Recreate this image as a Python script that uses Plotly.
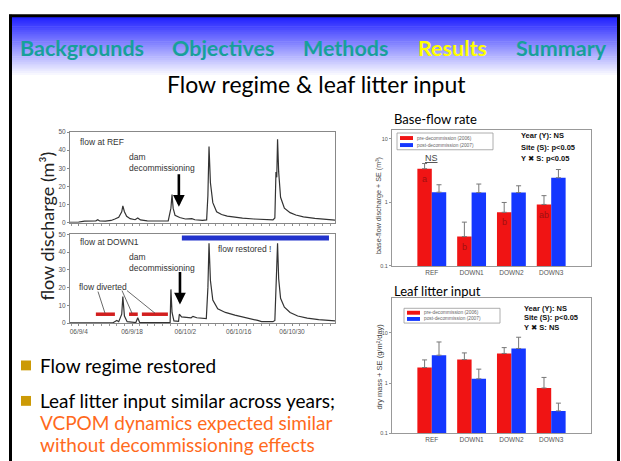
import math
import plotly.graph_objects as go

W, H = 621, 461
def px(x): return x / W
def py(y): return 1 - y / H

# ---------------- data ----------------
nav_items = ["Backgrounds", "Objectives", "Methods", "Results", "Summary"]
nav_active = "Results"
title_text = "Flow regime & leaf litter input"

ref_dates = ['2006-09-01 17:00','2006-09-04 00:00','2006-09-05 12:00','2006-09-07 00:00','2006-09-08 12:00',
             '2006-09-09 00:00','2006-09-09 12:00','2006-09-11 00:00','2006-09-12 12:00','2006-09-13 12:00',
             '2006-09-14 12:00','2006-09-15 07:00','2006-09-15 14:00','2006-09-16 00:00','2006-09-16 14:00',
             '2006-09-17 12:00','2006-09-18 19:00','2006-09-19 12:00','2006-09-20 05:00','2006-09-22 00:00',
             '2006-09-25 00:00','2006-09-27 12:00','2006-09-28 05:00','2006-09-28 12:00','2006-09-28 19:00',
             '2006-09-29 07:00','2006-09-30 12:00','2006-10-02 00:00','2006-10-03 17:00','2006-10-04 12:00',
             '2006-10-06 12:00','2006-10-07 14:00','2006-10-07 22:00','2006-10-08 05:00','2006-10-08 14:00',
             '2006-10-09 05:00','2006-10-10 05:00','2006-10-11 12:00','2006-10-13 00:00','2006-10-15 00:00',
             '2006-10-17 00:00','2006-10-20 00:00','2006-10-23 00:00','2006-10-25 00:00','2006-10-25 12:00',
             '2006-10-25 19:00','2006-10-26 00:00','2006-10-26 05:00','2006-10-26 12:00','2006-10-27 00:00',
             '2006-10-28 00:00','2006-10-29 12:00','2006-10-31 00:00','2006-11-02 00:00','2006-11-05 00:00',
             '2006-11-08 00:00','2006-11-10 07:00']
ref_flow = [0.2, 0.3, 0.8, 0.9, 1.0,
            1.6, 0.9, 0.8, 1.2, 2.0,
            3.0, 6.0, 9.2, 6.0, 3.5,
            2.2, 1.6, 2.6, 1.5, 1.0,
            0.8, 0.9, 8.0, 15.5, 8.0,
            4.0, 2.8, 2.0, 2.2, 1.6,
            1.3, 1.5, 15.0, 42.0, 22.0,
            11.0, 6.0, 4.5, 3.6, 3.0,
            2.5, 2.0, 1.6, 1.5, 2.6,
            28.0, 25.0, 46.0, 28.0, 14.0,
            8.0, 5.5, 4.2, 3.2, 2.3,
            1.7, 1.4]

down1_dates = ['2006-09-01 17:00','2006-09-13 00:00','2006-09-14 00:00','2006-09-14 12:00','2006-09-15 07:00',
               '2006-09-15 14:00','2006-09-16 00:00','2006-09-16 17:00','2006-09-19 00:00','2006-09-19 12:00',
               '2006-09-20 00:00','2006-09-28 00:00','2006-09-28 05:00','2006-09-28 12:00','2006-09-29 00:00',
               '2006-09-30 05:00','2006-09-30 10:00','2006-10-01 00:00','2006-10-03 12:00','2006-10-04 00:00',
               '2006-10-05 00:00','2006-10-07 12:00','2006-10-07 22:00','2006-10-08 05:00','2006-10-08 14:00',
               '2006-10-09 05:00','2006-10-10 12:00','2006-10-12 12:00','2006-10-15 00:00','2006-10-18 00:00',
               '2006-10-21 00:00','2006-10-22 00:00','2006-10-25 00:00','2006-10-25 12:00','2006-10-25 19:00',
               '2006-10-26 05:00','2006-10-26 12:00','2006-10-27 00:00','2006-10-28 00:00','2006-10-29 12:00',
               '2006-10-31 12:00','2006-11-03 00:00','2006-11-06 00:00','2006-11-10 07:00']
down1_flow = [0.1, 0.2, 1.5, 0.8, 5.0,
              15.0, 4.0, 0.8, 0.3, 3.0,
              0.3, 0.3, 19.0, 6.0, 1.2,
              1.0, 5.0, 3.5, 3.0, 3.8,
              3.0, 2.5, 20.0, 45.0, 24.0,
              13.0, 8.0, 6.0, 4.5, 3.2,
              1.5, 0.8, 0.8, 1.5, 20.0,
              45.0, 25.0, 14.0, 9.0, 6.0,
              4.0, 2.8, 2.0, 1.3]

date_range = ['2006-09-01 17:00', '2006-11-10 07:00']
date_ticks = ['2006-09-04', '2006-09-18', '2006-10-02', '2006-10-16', '2006-10-30']
date_ticktext = ['06/9/4', '06/9/18', '06/10/2', '06/10/16', '06/10/30']
flow_ticks = [0, 10, 20, 30, 40, 50]

diverted_start = ['2006-09-08 12:00', '2006-09-17 05:00', '2006-09-20 14:00']
diverted_end = ['2006-09-13 12:00', '2006-09-19 12:00', '2006-09-27 10:00']
diverted_level = 5
restored_start = '2006-10-01 02:00'
restored_end = '2006-11-08 17:00'
restored_level = 48
decommission_date_ref = '2006-09-30 07:00'
decommission_tip_ref = 8.8
decommission_date_down1 = '2006-09-30 14:00'
decommission_tip_down1 = 10.5

sites = ["REF", "DOWN1", "DOWN2", "DOWN3"]
base_pre = [3.4, 0.29, 0.70, 0.93]
base_pre_se = [0.7, 0.2, 0.3, 0.35]
base_post = [1.45, 1.43, 1.43, 2.45]
base_post_se = [0.45, 0.52, 0.4, 0.85]
base_letters = ["a", "b", "b", "ab"]
base_stats = ["Year (Y): NS", "Site (S): p<0.05", "Y \u2716 S: p<0.05"]

litter_pre = [2.05, 2.95, 3.9, 0.8]
litter_pre_se = [0.85, 1.05, 1.2, 0.5]
litter_post = [3.6, 1.22, 4.9, 0.28]
litter_post_se = [3.0, 0.68, 3.3, 0.12]
litter_stats = ["Year (Y): NS", "Site (S): p<0.05", "Y \u2716 S: NS"]

legend_labels = ["pre-decommission (2006)", "post-decommission (2007)"]
log_ticks = [0.1, 1, 10]
log_ticktext = ["0.1", "1", "10"]

bullets = ["Flow regime restored", "Leaf litter input similar across years;"]
bullet_orange = ["VCPOM dynamics expected similar", "without decommissioning effects"]

# ---------------- styles ----------------
RED = "#f01414"
BLUE = "#1437ff"
TEAL = "#17a09a"
SLIDE_FONT = "Lato"
CHART_FONT = "Liberation Sans, Arial, DejaVu Sans"

fig = go.Figure()

# hydrographs
fig.add_trace(go.Scatter(x=ref_dates, y=ref_flow, mode="lines",
                         line=dict(color="#333333", width=1.2), xaxis="x", yaxis="y"))
fig.add_trace(go.Scatter(x=down1_dates, y=down1_flow, mode="lines",
                         line=dict(color="#333333", width=1.2), xaxis="x2", yaxis="y2"))

# bar charts
err_kw = dict(type="data", symmetric=False, color="#777777", thickness=1, width=2.5)
fig.add_trace(go.Bar(x=sites, y=base_pre, marker=dict(color=RED, line=dict(width=0)),
                     error_y=dict(array=base_pre_se, arrayminus=[0]*4, **err_kw),
                     xaxis="x3", yaxis="y3"))
fig.add_trace(go.Bar(x=sites, y=base_post, marker=dict(color=BLUE, line=dict(width=0)),
                     error_y=dict(array=base_post_se, arrayminus=[0]*4, **err_kw),
                     xaxis="x3", yaxis="y3"))
fig.add_trace(go.Bar(x=sites, y=litter_pre, marker=dict(color=RED, line=dict(width=0)),
                     error_y=dict(array=litter_pre_se, arrayminus=[0]*4, **err_kw),
                     xaxis="x4", yaxis="y4"))
fig.add_trace(go.Bar(x=sites, y=litter_post, marker=dict(color=BLUE, line=dict(width=0)),
                     error_y=dict(array=litter_post_se, arrayminus=[0]*4, **err_kw),
                     xaxis="x4", yaxis="y4"))

shapes = []
annotations = []

# slide gradient header
n_strips = 32
y0g, y1g = 13, 74
for i in range(n_strips):
    t = i / (n_strips - 1)
    c = int(34 + (255 - 34) * t)
    ya = y0g + (y1g - y0g) * i / n_strips
    yb = y0g + (y1g - y0g) * (i + 1) / n_strips + 0.6
    shapes.append(dict(type="rect", xref="paper", yref="paper", x0=px(10), x1=px(619),
                       y0=py(yb), y1=py(ya), fillcolor=f"rgb({c},{c},255)",
                       line=dict(width=0), layer="below"))
# slide border
shapes.append(dict(type="line", xref="paper", yref="paper", x0=px(9), x1=px(620),
                   y0=py(12), y1=py(12), line=dict(color="black", width=3)))
shapes.append(dict(type="line", xref="paper", yref="paper", x0=px(10.5), x1=px(10.5),
                   y0=py(11), y1=py(470), line=dict(color="black", width=3)))
shapes.append(dict(type="line", xref="paper", yref="paper", x0=px(618.5), x1=px(618.5),
                   y0=py(11), y1=py(470), line=dict(color="black", width=3)))

# nav
nav_x = [82, 223, 346, 452, 561]
for name, xc in zip(nav_items, nav_x):
    annotations.append(dict(text=f"<b>{name}</b>", x=px(xc), y=py(45), xref="paper", yref="paper",
                            showarrow=False, xanchor="center", yanchor="middle",
                            font=dict(family=SLIDE_FONT, size=21.5,
                                      color="#ffff00" if name == nav_active else TEAL)))
annotations.append(dict(text=title_text, x=px(316), y=py(81), xref="paper", yref="paper",
                        showarrow=False, xanchor="center", yanchor="middle",
                        font=dict(family=SLIDE_FONT, size=23, color="black")))

# hydro markers
for s, e in zip(diverted_start, diverted_end):
    shapes.append(dict(type="line", xref="x2", yref="y2", x0=s, x1=e, y0=diverted_level,
                       y1=diverted_level, line=dict(color="#d21e1e", width=3.5)))
shapes.append(dict(type="line", xref="x2", yref="y2", x0=restored_start, x1=restored_end,
                   y0=restored_level, y1=restored_level, line=dict(color="#2233cc", width=5)))
# leader lines from "flow diverted"
for (xa, ya, xb, yb) in [(98, 292, 105, 314), (122, 291, 132, 314), (127, 291, 155, 314)]:
    shapes.append(dict(type="line", xref="paper", yref="paper", x0=px(xa), y0=py(ya),
                       x1=px(xb), y1=py(yb), line=dict(color="#444", width=0.8)))

def txt(t, x, y, size=8.5, color="#333", anchor="left", family=CHART_FONT, **kw):
    annotations.append(dict(text=t, x=px(x), y=py(y), xref="paper", yref="paper", showarrow=False,
                            xanchor=anchor, yanchor="middle", align="left",
                            font=dict(family=family, size=size, color=color), **kw))

txt("flow at REF", 78, 140)
txt("dam<br>decommissioning", 127, 161)
txt("flow at DOWN1", 78, 242)
txt("dam<br>decommissioning", 127, 262)
txt("flow restored !", 216, 249)
txt("flow diverted", 77, 287)
annotations.append(dict(text="flow discharge (m\u00b3)", x=px(47), y=py(226), xref="paper", yref="paper",
                        showarrow=False, textangle=-90, xanchor="center", yanchor="middle",
                        font=dict(family=SLIDE_FONT, size=18, color="#222")))

for xr, yr, d, tip in [("x", "y", decommission_date_ref, decommission_tip_ref),
                       ("x2", "y2", decommission_date_down1, decommission_tip_down1)]:
    annotations.append(dict(x=d, y=tip, xref=xr, yref=yr, text="", showarrow=True, ax=0, ay=-34,
                            arrowhead=2, arrowsize=0.9, arrowwidth=2.6, arrowcolor="black"))

# bar chart decorations
txt("Base-flow rate", 392, 117, size=13, color="black", family=SLIDE_FONT)
txt("Leaf litter input", 392, 291, size=13, color="black", family=SLIDE_FONT)
for i, s in enumerate(base_stats):
    txt(f"<b>{s}</b>", 519, 134 + 11.5 * i, size=7.5, color="#111")
for i, s in enumerate(litter_stats):
    txt(f"<b>{s}</b>", 522, 309 + 9.5 * i, size=7.5, color="#111")
txt("base-flow discharge + SE (m\u00b3)", 379, 205, size=7.2, color="#444", anchor="center", textangle=-90)
txt("dry mass + SE (g/m\u00b2/day)", 379, 368, size=7.5, color="#444", anchor="center", textangle=-90)

for (bx0, by0, bx1, by1) in [(397, 131, 493, 148), (404, 309, 500, 324)]:
    shapes.append(dict(type="rect", xref="paper", yref="paper", x0=px(bx0), x1=px(bx1),
                       y0=py(by1), y1=py(by0), line=dict(color="#999", width=0.8)))
    h = (by1 - by0)
    for k, col in enumerate([RED, BLUE]):
        yc = by0 + h * (0.3 + 0.42 * k)
        shapes.append(dict(type="rect", xref="paper", yref="paper", x0=px(bx0 + 3), x1=px(bx0 + 16),
                           y0=py(yc + 2), y1=py(yc - 2), fillcolor=col, line=dict(width=0)))
        txt(legend_labels[k], bx0 + 18, yc, size=4.8, color="#666")

for site, v, lab in zip(sites, base_pre, base_letters):
    annotations.append(dict(x=site, y=math.log10(v) - 0.16, xref="x3", yref="y3", text=lab,
                            showarrow=False, xshift=-7.3, font=dict(family=CHART_FONT, size=9, color="#a01010")))
annotations.append(dict(x=sites[0], y=0.70, xref="x3", yref="y3", text="<u>NS</u>", showarrow=False,
                        font=dict(family=CHART_FONT, size=9, color="#444")))

# bullets
for yc in [367, 403]:
    shapes.append(dict(type="rect", xref="paper", yref="paper", x0=px(21), x1=px(31),
                       y0=py(yc + 5), y1=py(yc - 5), fillcolor="#cc9a06", line=dict(width=0)))
txt(bullets[0], 38, 367, size=19, color="black", family=SLIDE_FONT)
txt(bullets[1], 38, 403, size=19, color="black", family=SLIDE_FONT)
txt(bullet_orange[0], 38, 425, size=19, color="#ff6a1c", family=SLIDE_FONT)
txt(bullet_orange[1], 38, 447, size=19, color="#ff6a1c", family=SLIDE_FONT)

hydro_x = dict(domain=[px(70), px(335)], type="date", range=date_range, showline=True,
               linecolor="#888", linewidth=1, mirror=True, showgrid=False, zeroline=False,
               tickvals=date_ticks, ticks="outside", ticklen=2, tickcolor="#888",
               minor=dict(dtick=2 * 86400000, tick0='2006-09-04', ticks="outside", ticklen=2, tickcolor="#999"),
               tickfont=dict(family=CHART_FONT, size=6.5, color="#555"))
hydro_y = dict(range=[0, 50], tickvals=flow_ticks, showline=True, linecolor="#888", linewidth=1,
               mirror=True, showgrid=False, zeroline=False, ticks="outside", ticklen=2, tickcolor="#888",
               tickfont=dict(family=CHART_FONT, size=6.5, color="#555"))
bar_x = dict(type="category", range=[-1, 4], showline=True, linecolor="#999", linewidth=1, mirror=True,
             showgrid=False, ticks="", tickfont=dict(family=CHART_FONT, size=6.5, color="#555"))
bar_y = dict(type="log", tickvals=log_ticks, ticktext=log_ticktext, showline=True, linecolor="#999",
             linewidth=1, mirror=True, showgrid=False, zeroline=False, ticks="outside", ticklen=2,
             tickcolor="#999", tickfont=dict(family=CHART_FONT, size=5.5, color="#555"))

fig.update_layout(
    width=W, height=H, margin=dict(l=0, r=0, t=0, b=0),
    paper_bgcolor="white", plot_bgcolor="rgba(0,0,0,0)", showlegend=False,
    barmode="group", bargap=0.275, bargroupgap=0,
    xaxis=dict(hydro_x, anchor="y", showticklabels=False),
    yaxis=dict(hydro_y, domain=[py(222), py(130)], anchor="x"),
    xaxis2=dict(hydro_x, anchor="y2", ticktext=date_ticktext),
    yaxis2=dict(hydro_y, domain=[py(324), py(234)], anchor="x2"),
    xaxis3=dict(bar_x, domain=[px(392), px(591)], anchor="y3"),
    yaxis3=dict(bar_y, domain=[py(266), py(128)], range=[-1, 1.14], anchor="x3"),
    xaxis4=dict(bar_x, domain=[px(392), px(591)], anchor="y4"),
    yaxis4=dict(bar_y, domain=[py(436), py(299)], range=[-1, 1.686], anchor="x4"),
    shapes=shapes, annotations=annotations,
)

fig.write_html("out.html", config={"displayModeBar": False},
               post_script="document.body.style.margin='0';document.body.style.overflow='hidden';")
